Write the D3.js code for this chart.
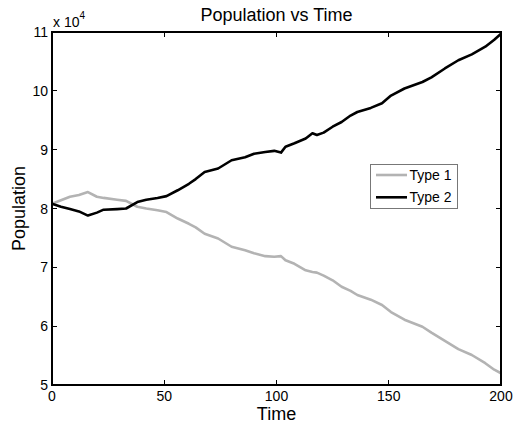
<!DOCTYPE html>
<html><head><meta charset="utf-8">
<script src="https://cdn.jsdelivr.net/npm/d3@7"></script>
<style>body{margin:0;background:#fff}svg{display:block}text{font-family:"Liberation Sans",Arial,sans-serif;fill:#000}</style>
</head><body><svg id="c" width="514" height="433"></svg>
<script>
const time = [0,4,8,12,16,20,23,29,33,38,42,47,51,56,61,64,68,74,80,86,90,95,99,102,104,108,113,116,118,121,125,129,133,136,142,147,151,157,165,169,175,181,187,193,197,200];
const type1 = [8.08,8.14,8.20,8.23,8.28,8.20,8.18,8.15,8.13,8.03,8.00,7.97,7.94,7.83,7.74,7.68,7.57,7.49,7.35,7.29,7.24,7.19,7.18,7.19,7.12,7.06,6.95,6.92,6.91,6.86,6.78,6.67,6.60,6.53,6.45,6.36,6.24,6.11,5.99,5.89,5.75,5.61,5.51,5.37,5.26,5.20];
const type2 = [8.08,8.03,7.99,7.95,7.88,7.93,7.98,7.99,8.00,8.11,8.15,8.18,8.21,8.31,8.42,8.50,8.62,8.68,8.82,8.87,8.93,8.96,8.98,8.95,9.05,9.11,9.19,9.28,9.25,9.29,9.39,9.47,9.58,9.64,9.71,9.79,9.92,10.04,10.15,10.23,10.38,10.52,10.62,10.75,10.87,10.97];
const seriesNames = ["Type 1","Type 2"];
const seriesColors = ["#b3b3b3","#000000"];
const xTicks = [0,50,100,150,200];
const yTicks = [5,6,7,8,9,10,11];

const svg = d3.select("#c");
const L=52, R=501, T=32, B=385;
const x = d3.scaleLinear().domain([0,200]).range([L,R]);
const y = d3.scaleLinear().domain([5,11]).range([B,T]);

const series = [type1,type2];
const line = d3.line().x(d=>x(d[0])).y(d=>y(d[1]));
series.forEach((vals,i)=>{
  svg.append("path").datum(time.map((t,j)=>[t,vals[j]]))
    .attr("d",line).attr("fill","none").attr("stroke",seriesColors[i])
    .attr("stroke-width",2.6).attr("stroke-linejoin","round");
});

// axes
const g = svg.append("g").attr("shape-rendering","crispEdges");
g.append("rect").attr("x",L).attr("y",T).attr("width",R-L).attr("height",B-T)
  .attr("fill","none").attr("stroke","#000").attr("stroke-width",1.2);
const tl=5;
xTicks.forEach(t=>{
  g.append("line").attr("x1",x(t)).attr("x2",x(t)).attr("y1",B).attr("y2",B-tl).attr("stroke","#000");
  g.append("line").attr("x1",x(t)).attr("x2",x(t)).attr("y1",T).attr("y2",T+tl).attr("stroke","#000");
  svg.append("text").attr("x",x(t)).attr("y",401).attr("text-anchor","middle").attr("font-size",14).text(t);
});
yTicks.forEach(t=>{
  g.append("line").attr("x1",L).attr("x2",L+tl).attr("y1",y(t)).attr("y2",y(t)).attr("stroke","#000");
  g.append("line").attr("x1",R).attr("x2",R-tl).attr("y1",y(t)).attr("y2",y(t)).attr("stroke","#000");
  svg.append("text").attr("x",48).attr("y",y(t)+5).attr("text-anchor","end").attr("font-size",14).text(t);
});
// exponent
const ex = svg.append("text").attr("x",53).attr("y",27).attr("font-size",14);
ex.append("tspan").text("x 10");
ex.append("tspan").attr("dy",-8).attr("font-size",10).text("4");

svg.append("text").attr("x",(L+R)/2).attr("y",21).attr("text-anchor","middle").attr("font-size",18).text("Population vs Time");
svg.append("text").attr("x",(L+R)/2).attr("y",420).attr("text-anchor","middle").attr("font-size",18).text("Time");
svg.append("text").attr("transform",`translate(25,${(T+B)/2}) rotate(-90)`).attr("text-anchor","middle").attr("font-size",18).text("Population");

// legend
const lg = svg.append("g");
lg.append("rect").attr("x",370.5).attr("y",164.5).attr("width",87).attr("height",44)
  .attr("fill","#fff").attr("stroke","#777").attr("stroke-width",1);
seriesNames.forEach((n,i)=>{
  const yy = 175 + i*22.3;
  lg.append("line").attr("x1",376).attr("x2",407).attr("y1",yy).attr("y2",yy)
    .attr("stroke",seriesColors[i]).attr("stroke-width",2.6);
  lg.append("text").attr("x",409.5).attr("y",yy+5).attr("font-size",14).text(n);
});
</script></body></html>
